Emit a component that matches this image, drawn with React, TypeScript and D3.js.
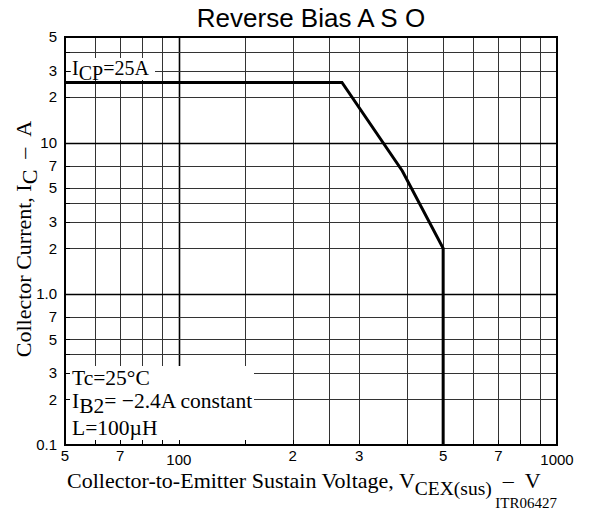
import React, { useEffect, useRef } from "react";
import * as d3 from "d3";

// grid lines (log decades, as printed on the datasheet)
const xGridValues = [60, 70, 80, 90, 100, 150, 200, 250, 300, 400, 500, 600, 700, 800, 900];
const yGridValues = [0.2, 0.3, 0.4, 0.5, 0.7, 1, 2, 3, 4, 5, 7, 10, 20, 30, 40];

// tick labels
const xTickValues = [50, 70, 100, 200, 300, 500, 700, 1000];
const xTickLabels = ["5", "7", "100", "2", "3", "5", "7", "1000"];
const yTickValues = [50, 30, 20, 10, 7, 5, 3, 2, 1, 0.7, 0.5, 0.3, 0.2, 0.1];
const yTickLabels = ["5", "3", "2", "10", "7", "5", "3", "2", "1.0", "7", "5", "3", "2", "0.1"];

// safe operating area boundary
const asoVoltage = [50, 270, 390, 500, 500];
const asoCurrent = [25, 25, 6.5, 2, 0.1];

const SANS = "'Liberation Sans', Arial, sans-serif";
const SERIF = "'Liberation Serif', 'Times New Roman', serif";
const NB = "\u00a0";

const App = () => {
  const ref = useRef<SVGSVGElement | null>(null);

  useEffect(() => {
    const width = 589,
      height = 514;
    const margin = { top: 37, right: 32, bottom: 69, left: 65 };
    const innerW = width - margin.left - margin.right;
    const innerH = height - margin.top - margin.bottom;

    const svg = d3.select(ref.current);
    svg.selectAll("*").remove();

    const x = d3.scaleLog().domain([50, 1000]).range([margin.left, margin.left + innerW]);
    const y = d3.scaleLog().domain([0.1, 50]).range([margin.top + innerH, margin.top]);

    const g = svg.append("g");

    // grid
    g.selectAll(".vgrid")
      .data(xGridValues)
      .enter()
      .append("line")
      .attr("x1", (d) => Math.round(x(d)) + 0.5)
      .attr("x2", (d) => Math.round(x(d)) + 0.5)
      .attr("y1", y(50))
      .attr("y2", y(0.1))
      .attr("stroke", (d) => (d === 100 ? "#000" : "#333"))
      .attr("stroke-width", (d) => (d === 100 ? 1.6 : 1));

    g.selectAll(".hgrid")
      .data(yGridValues)
      .enter()
      .append("line")
      .attr("x1", x(50))
      .attr("x2", x(1000))
      .attr("y1", (d) => Math.round(y(d)) + 0.5)
      .attr("y2", (d) => Math.round(y(d)) + 0.5)
      .attr("stroke", (d) => (d === 10 || d === 1 ? "#000" : "#333"))
      .attr("stroke-width", (d) => (d === 10 || d === 1 ? 1.4 : 1));

    // ASO curve
    const line = d3
      .line<number>()
      .x((d, i) => x(asoVoltage[i]))
      .y((d) => y(d));
    g.append("path")
      .attr("d", line(asoCurrent))
      .attr("fill", "none")
      .attr("stroke", "#000")
      .attr("stroke-width", 3)
      .attr("stroke-linejoin", "miter");

    // white boxes behind the notes
    g.append("rect")
      .attr("x", margin.left)
      .attr("y", 366)
      .attr("width", 254 - margin.left)
      .attr("height", y(0.1) - 366)
      .attr("fill", "#fff");
    g.append("rect")
      .attr("x", 71)
      .attr("y", 58)
      .attr("width", 84)
      .attr("height", 22)
      .attr("fill", "#fff");

    // small inward ticks on left and bottom axes
    g.selectAll(".xtick")
      .data(xGridValues)
      .enter()
      .append("line")
      .attr("x1", (d) => Math.round(x(d)) + 0.5)
      .attr("x2", (d) => Math.round(x(d)) + 0.5)
      .attr("y1", y(0.1))
      .attr("y2", y(0.1) - 5)
      .attr("stroke", "#000");
    g.selectAll(".ytick")
      .data(yGridValues)
      .enter()
      .append("line")
      .attr("x1", x(50))
      .attr("x2", x(50) + 5)
      .attr("y1", (d) => Math.round(y(d)) + 0.5)
      .attr("y2", (d) => Math.round(y(d)) + 0.5)
      .attr("stroke", "#000");

    // frame
    g.append("rect")
      .attr("x", margin.left)
      .attr("y", margin.top)
      .attr("width", innerW)
      .attr("height", innerH)
      .attr("fill", "none")
      .attr("stroke", "#000")
      .attr("stroke-width", 2);

    // tick labels
    g.selectAll(".xlabel")
      .data(xTickValues)
      .enter()
      .append("text")
      .attr("x", (d) => x(d))
      .attr("y", (d, i) => (xTickLabels[i].length > 1 ? 465 : 461))
      .attr("text-anchor", "middle")
      .style("font-family", SANS)
      .style("font-size", "15px")
      .text((d, i) => xTickLabels[i]);

    g.selectAll(".ylabel")
      .data(yTickValues)
      .enter()
      .append("text")
      .attr("x", 57)
      .attr("y", (d) => y(d))
      .attr("dy", "0.35em")
      .attr("text-anchor", "end")
      .style("font-family", SANS)
      .style("font-size", "15px")
      .text((d, i) => yTickLabels[i]);

    // title
    svg
      .append("text")
      .attr("x", 311)
      .attr("y", 27)
      .attr("text-anchor", "middle")
      .style("font-family", SANS)
      .style("font-size", "26px")
      .text("Reverse Bias A S O");

    // x-axis title
    const xt = svg
      .append("text")
      .attr("x", 67)
      .attr("y", 488)
      .style("font-family", SERIF)
      .style("font-size", "22px");
    xt.append("tspan").text("Collector-to-Emitter Sustain Voltage, V");
    xt.append("tspan").attr("dy", 7).style("font-size", "19.5px").text("CEX(sus)");
    xt.append("tspan").attr("dy", -7).text(`${NB}${NB}\u2013${NB}${NB}V`);

    // y-axis title
    const yt = svg
      .append("text")
      .attr("transform", `translate(31,${239}) rotate(-90)`)
      .attr("text-anchor", "middle")
      .style("font-family", SERIF)
      .style("font-size", "22px");
    yt.append("tspan").text("Collector Current, I");
    yt.append("tspan").attr("dy", 6).text("C");
    yt.append("tspan").attr("dy", -6).text(`${NB}${NB}\u2013${NB}${NB}A`);

    // I_CP note
    const icp = svg
      .append("text")
      .attr("x", 72)
      .attr("y", 75)
      .style("font-family", SERIF)
      .style("font-size", "20px");
    icp.append("tspan").text("I");
    icp.append("tspan").attr("dy", 5).text("CP");
    icp.append("tspan").attr("dy", -5).text("=25A");

    // condition notes
    const notes = svg.append("g").style("font-family", SERIF).style("font-size", "21.5px");
    notes.append("text").attr("x", 72).attr("y", 385).text("Tc=25\u00b0C");
    const ib = notes.append("text").attr("x", 72).attr("y", 408);
    ib.append("tspan").text("I");
    ib.append("tspan").attr("dy", 5).text("B2");
    ib.append("tspan").attr("dy", -5).text("= \u22122.4A constant");
    notes.append("text").attr("x", 72).attr("y", 435).text("L=100\u00b5H");

    // figure code
    svg
      .append("text")
      .attr("x", 557)
      .attr("y", 508)
      .attr("text-anchor", "end")
      .style("font-family", SERIF)
      .style("font-size", "15px")
      .text("ITR06427");
  }, []);

  return (
    <svg
      ref={ref}
      width={589}
      height={514}
      style={{ position: "absolute", left: 0, top: 0, background: "#fff" }}
    />
  );
};

export default App;
